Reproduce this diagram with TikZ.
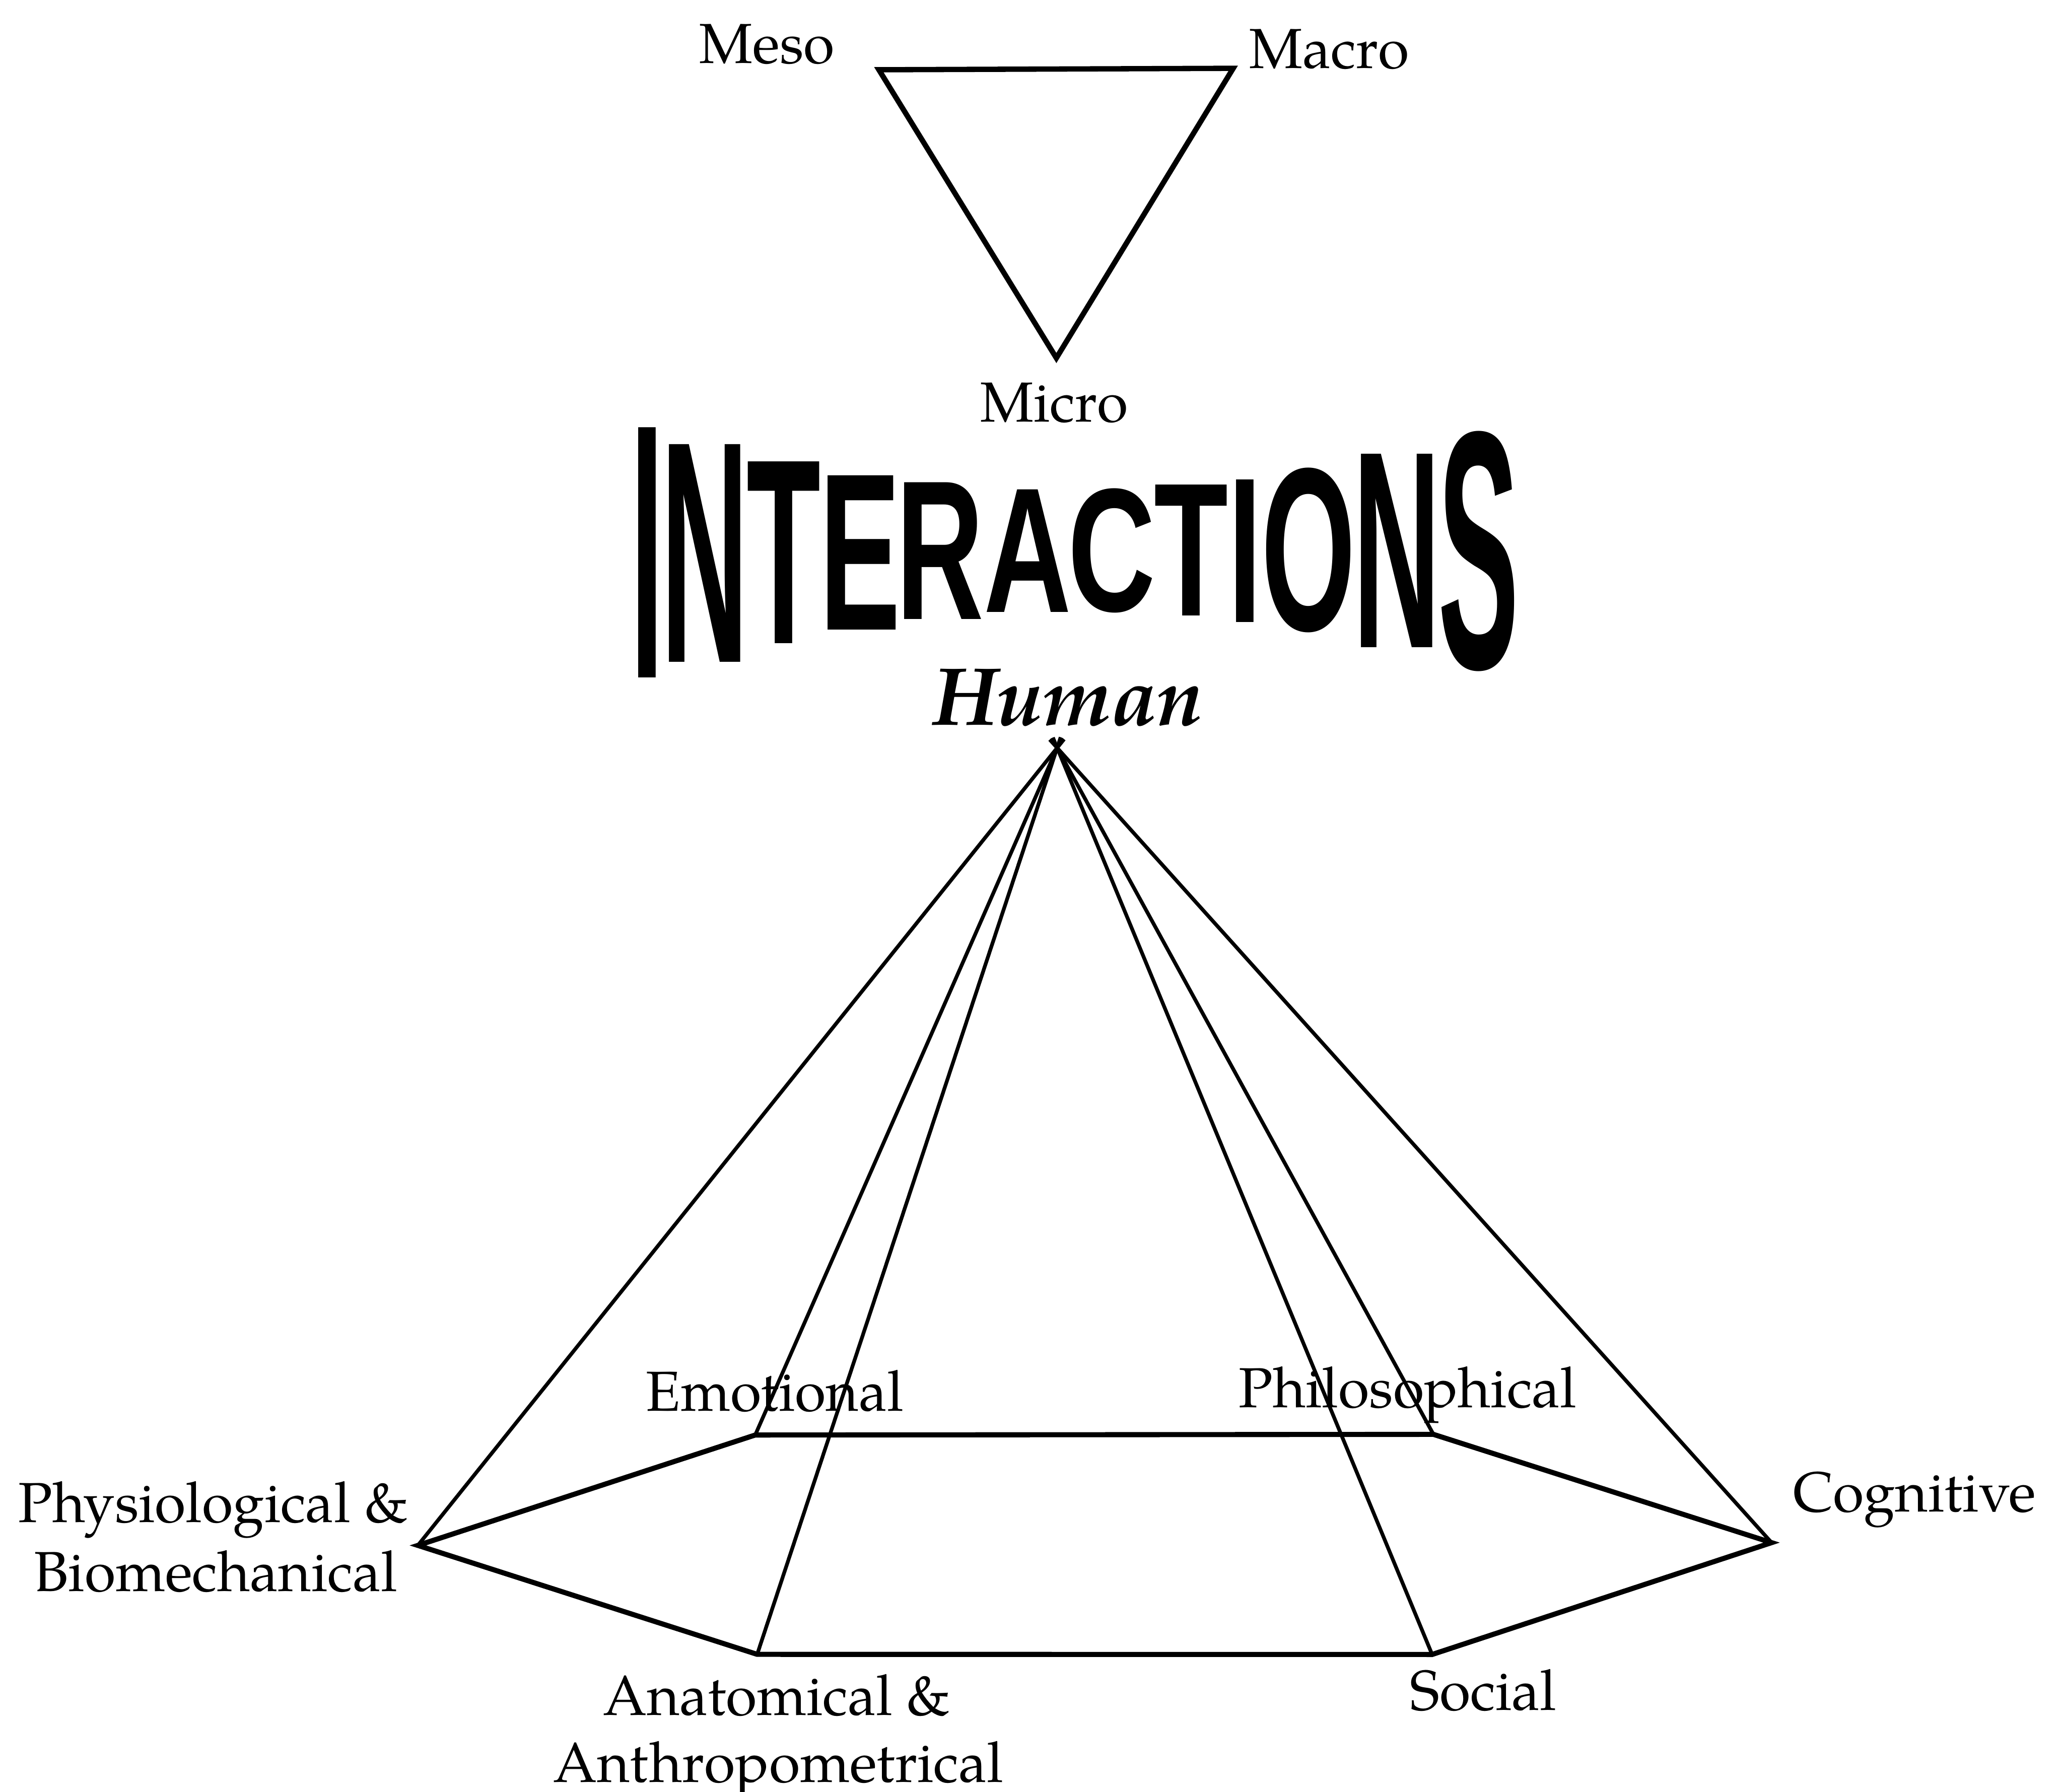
\documentclass[tikz,border=0pt]{standalone}
\usepackage{fontspec}
\newfontfamily\artfont{Liberation Sans}
\IfFontExistsTF{TeX Gyre Pagella}
  {\newfontfamily\palfont{TeX Gyre Pagella}}
  {\newfontfamily\palfont{Liberation Serif}}
\begin{document}
\begin{tikzpicture}[x=0.01cm,y=-0.01cm]
\tikzset{
  lbl/.style={font=\palfont\fontsize{12.2}{15}\selectfont, inner sep=0pt, anchor=base},
  hum/.style={font=\palfont\fontsize{17.8}{20}\selectfont\bfseries\itshape, inner sep=0pt, anchor=base},
  ltr/.style={font=\artfont\bfseries\fontsize{26.2}{30}\selectfont, inner sep=0pt, anchor=center},
  tri/.style={line width=1.15pt, line join=miter},
  hexedge/.style={line width=1.1pt, line join=miter},
  spoke/.style={line width=0.8pt, shorten >=-2.4pt},
}
\useasboundingbox (0,0) rectangle (1568,1362);

% levels triangle
\coordinate (mesoV)  at (668.0,53.0);
\coordinate (macroV) at (937.3,51.9);
\coordinate (microV) at (802.9,272.1);
\draw[tri] (mesoV) -- (macroV) -- (microV) -- cycle;
\node[lbl] (meso)  at (583.0,48.0)  {Meso};
\node[lbl] (macro) at (1010.4,51.9) {Macro};
\node[lbl] (micro) at (801.3,320.5) {Micro};

% warped title, one letter at a time
\node[ltr, yscale=3.00] (t1)  at (491.9,420.1) {I};
\node[ltr, yscale=2.61] (t2)  at (535.6,420.4) {N};
\node[ltr, yscale=2.18] (t3)  at (595.5,420.1) {T};
\node[ltr, yscale=1.85] (t4)  at (653.7,420.1) {E};
\node[ltr, yscale=1.64] (t5)  at (714.4,418.6) {R};
\node[ltr, yscale=1.47] (t6)  at (781.2,418.6) {A};
\node[ltr, yscale=1.45] (t7)  at (845.0,418.7) {C};
\node[ltr, yscale=1.57] (t8)  at (905.4,418.3) {T};
\node[ltr, yscale=1.71] (t9)  at (946.4,418.7) {I};
\node[ltr, yscale=1.92] (t10) at (994.4,418.2) {O};
\node[ltr, yscale=2.32] (t11) at (1061.8,418.7) {N};
\node[ltr, yscale=2.80] (t12) at (1124.0,419.0) {S};

\node[hum] (human) at (811.6,551.2) {Human};

% pyramid
\coordinate (apex) at (803.5,568.4);
\coordinate (phys) at (317.6,1174.6);
\coordinate (emo)  at (574.0,1090.7);
\coordinate (phil) at (1089.5,1090.2);
\coordinate (cog)  at (1346.5,1172.5);
\coordinate (soc)  at (1088.5,1257.5);
\coordinate (anat) at (575.5,1257.4);

\node[lbl] (emoL)   at (588.9,1072.6) {Emotional};
\node[lbl] (philL)  at (1070.0,1069.8) {Philosophical};
\node[lbl] (physL)  at (162.2,1157.2) {Physiological \&};
\node[lbl] (physL2) at (163.9,1209.4) {Biomechanical};
\node[lbl] (cogL)   at (1455.0,1149.0) {Cognitive};
\node[lbl] (socL)   at (1127.3,1300.0) {Social};
\node[lbl] (anatL)  at (590.4,1303.6) {Anatomical \&};
\node[lbl] (anatL2) at (591.6,1354.7) {Anthropometrical};

\draw[hexedge] (phys) -- (emo) -- (phil) -- (cog) -- (soc) -- (anat) -- cycle;
\foreach \v in {phys,emo,anat,soc,phil,cog}
  \draw[spoke] (\v) -- (apex);
\end{tikzpicture}
\end{document}
